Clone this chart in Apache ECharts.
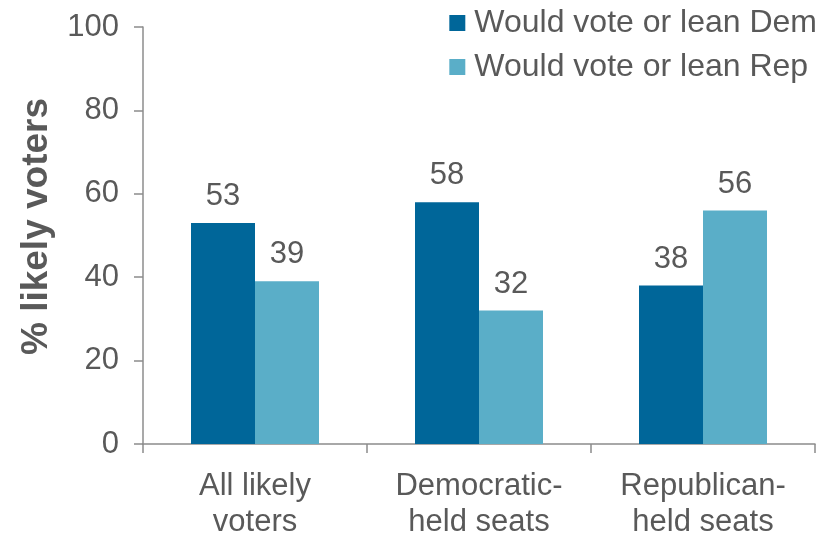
<!DOCTYPE html>
<html><head><meta charset="utf-8">
<script src="https://cdn.jsdelivr.net/npm/echarts@6/dist/echarts.min.js"></script>
<style>html,body{margin:0;padding:0;background:#fff}#c{width:831px;height:540px}</style>
</head><body><div id="c"></div>
<script>
const categories = ["All likely\nvoters", "Democratic-\nheld seats", "Republican-\nheld seats"];
const demValues = [53, 58, 38];
const repValues = [39, 32, 56];
const seriesNames = ["Would vote or lean Dem", "Would vote or lean Rep"];
const yTicks = {min: 0, max: 100, interval: 20};
const yName = "% likely voters";

const textColor = "#595959";
const axisColor = "#8c8c8c";
const font = "Liberation Sans, Arial, sans-serif";

const chart = echarts.init(document.getElementById('c'), null, {renderer: 'canvas'});
const labelStyle = {show: true, position: 'top', distance: 11, color: textColor, fontSize: 31, fontFamily: font};
chart.setOption({
  animation: false,
  textStyle: {fontFamily: font},
  grid: {left: 143, right: 16, top: 27, bottom: 87, containLabel: false},
  legend: {
    orient: 'vertical', right: 9, top: 2,
    itemWidth: 16, itemHeight: 16, itemGap: 12,
    icon: 'rect',
    textStyle: {color: textColor, fontSize: 32, fontFamily: font, lineHeight: 32, padding: [0,0,0,4]},
    data: seriesNames
  },
  xAxis: {
    type: 'category', data: categories,
    axisLine: {lineStyle: {color: axisColor, width: 1.5}},
    axisTick: {show: true, length: 9, lineStyle: {color: axisColor, width: 1.5}},
    axisLabel: {color: textColor, fontSize: 31, fontFamily: font, lineHeight: 36, margin: 24}
  },
  yAxis: {
    type: 'value', min: yTicks.min, max: yTicks.max, interval: yTicks.interval,
    name: yName, nameLocation: 'middle', nameGap: 88,
    nameTextStyle: {color: textColor, fontSize: 37, fontWeight: 'bold', fontFamily: font, padding: [0,0,0,18]},
    axisLine: {show: true, lineStyle: {color: axisColor, width: 1.5}},
    axisTick: {show: true, length: 9, lineStyle: {color: axisColor, width: 1.5}},
    splitLine: {show: false},
    axisLabel: {color: textColor, fontSize: 31, fontFamily: font, margin: 24}
  },
  series: [
    {name: seriesNames[0], type: 'bar', data: demValues, barWidth: 64, barGap: '0%',
     itemStyle: {color: '#006699'}, label: labelStyle},
    {name: seriesNames[1], type: 'bar', data: repValues, barWidth: 64,
     itemStyle: {color: '#5aaec8'}, label: labelStyle}
  ]
});
</script></body></html>
